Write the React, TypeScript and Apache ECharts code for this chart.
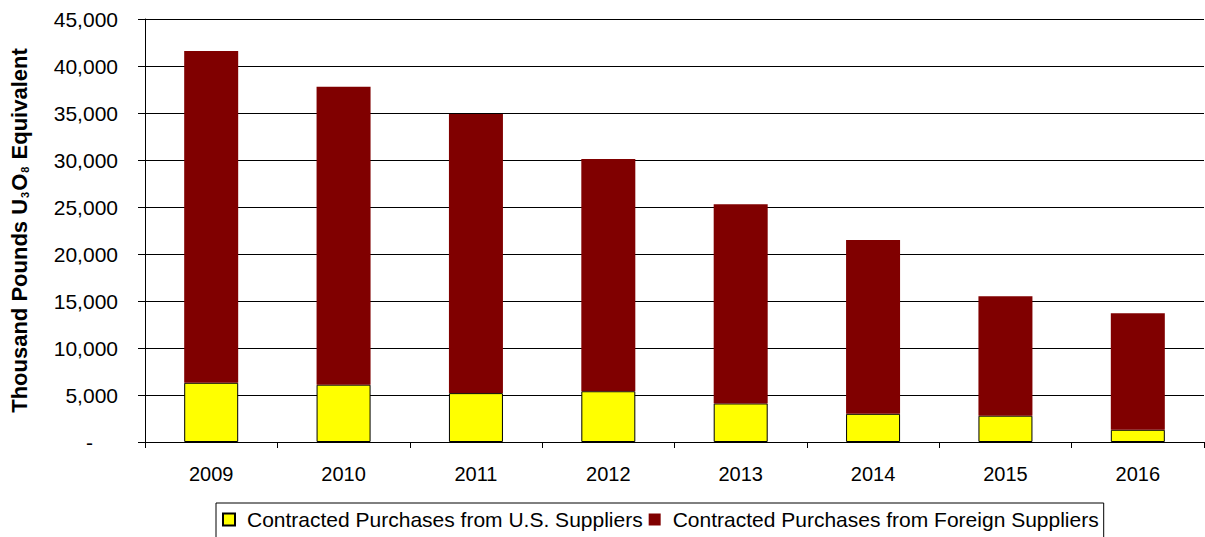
import React, { useEffect, useRef } from "react";
import * as echarts from "echarts";

const years = ["2009", "2010", "2011", "2012", "2013", "2014", "2015", "2016"];
const usSuppliers = [6300, 6100, 5200, 5400, 4100, 3000, 2800, 1300];
const foreignSuppliers = [35300, 31700, 29700, 24700, 21200, 18500, 12700, 12400];
const yTicks = { min: 0, max: 45000, interval: 5000 };
const seriesNames = [
  "Contracted Purchases from U.S. Suppliers",
  "Contracted Purchases from Foreign Suppliers",
];

const FONT = "'Liberation Sans', Arial, sans-serif";

export default function App() {
  const ref = useRef<HTMLDivElement>(null);
  useEffect(() => {
    document.body.style.margin = "0";
    const chart = echarts.init(ref.current!, null, { renderer: "svg" });
    chart.setOption({
      animation: false,
      backgroundColor: "#fff",
      grid: {
        left: 145,
        right: 1,
        top: 19,
        bottom: 95,
        containLabel: false,
        outerBoundsMode: "none",
      },
      legend: {
        left: 216,
        top: 503,
        width: 902,
        padding: [6, 5, 12, 6],
        borderColor: "#000",
        borderWidth: 1,
        itemWidth: 12,
        itemHeight: 12,
        itemGap: 6,
        icon: "rect",
        textStyle: { fontFamily: FONT, fontSize: 21, color: "#000", padding: [0, 0, 0, 7] },
        data: seriesNames,
      },
      xAxis: {
        type: "category",
        data: years,
        axisLine: { lineStyle: { color: "#000", width: 1 } },
        axisTick: { show: true, length: 6, lineStyle: { color: "#000" } },
        axisLabel: { color: "#000", fontFamily: FONT, fontSize: 20, margin: 22 },
      },
      yAxis: {
        type: "value",
        min: yTicks.min,
        max: yTicks.max,
        interval: yTicks.interval,
        name: "Thousand Pounds U{s|3}O{s|8} Equivalent",
        nameLocation: "middle",
        nameGap: 115,
        nameRotate: 90,
        nameTextStyle: {
          fontFamily: FONT,
          fontSize: 22,
          fontWeight: "bold",
          color: "#000",
          rich: {
            s: {
              fontFamily: FONT,
              fontSize: 11,
              fontWeight: "bold",
              color: "#000",
              verticalAlign: "bottom",
              padding: [9, 1, 0, 1],
            },
          },
        },
        axisLine: { show: true, lineStyle: { color: "#000", width: 1 } },
        axisTick: { show: true, length: 7, lineStyle: { color: "#000" } },
        splitLine: { show: true, lineStyle: { color: "#000", width: 1 } },
        axisLabel: {
          color: "#000",
          fontFamily: FONT,
          fontSize: 21,
          margin: 27,
          formatter: (v: number) =>
            v === 0 ? "{d|-}" : v.toLocaleString("en-US"),
          rich: { d: { fontFamily: FONT, fontSize: 21, color: "#000", padding: [0, 25, 0, 0] } },
        },
      },
      series: [
        {
          name: seriesNames[0],
          type: "bar",
          stack: "total",
          barWidth: 54,
          data: usSuppliers,
          itemStyle: { color: "#FFFF00", borderColor: "#000", borderWidth: 1 },
        },
        {
          name: seriesNames[1],
          type: "bar",
          stack: "total",
          barWidth: 54,
          data: foreignSuppliers,
          itemStyle: { color: "#800000" },
        },
      ],
    });
    return () => chart.dispose();
  }, []);
  return <div ref={ref} style={{ width: 1205, height: 537 }} />;
}
